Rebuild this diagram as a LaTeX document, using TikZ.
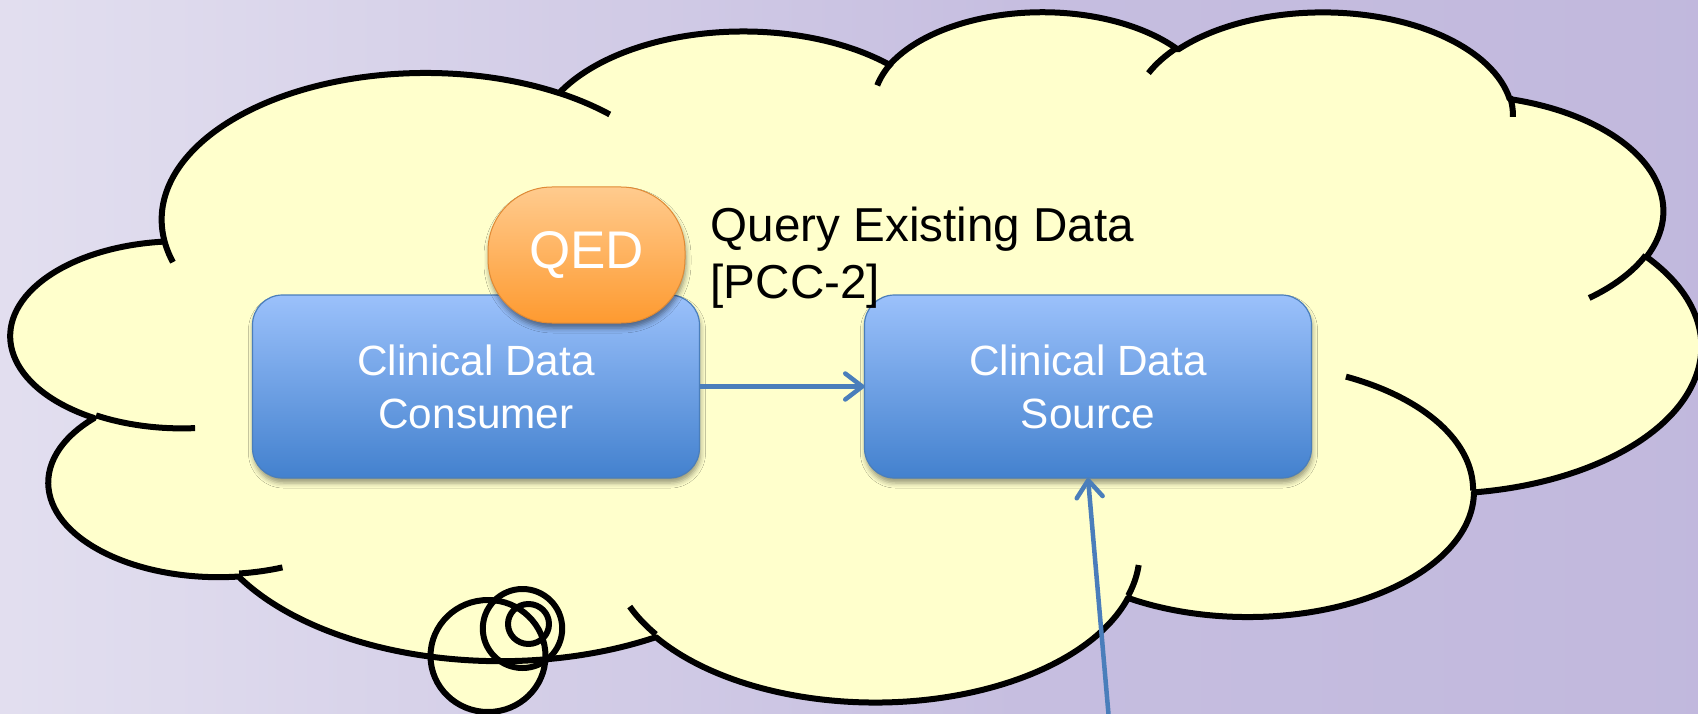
\documentclass[tikz,border=0pt]{standalone}
\usepackage{fontspec}
\setmainfont{Liberation Sans}
\usetikzlibrary{arrows.meta,shadows.blur}

\definecolor{cloudfill}{HTML}{FFFFCC}
\definecolor{boxtop}{HTML}{9BC1FB}
\definecolor{boxmid}{HTML}{76A3EA}
\definecolor{boxbot}{HTML}{4381CE}
\definecolor{boxedge}{HTML}{4A7EBB}
\definecolor{qedtop}{HTML}{FFCB8E}
\definecolor{qedmid}{HTML}{FDAE5E}
\definecolor{qedbot}{HTML}{FE9A30}
\definecolor{qededge}{HTML}{E08A35}
\definecolor{flowblue}{HTML}{4A7EBB}
\definecolor{bgA}{HTML}{F6F5FA}
\definecolor{bgB}{HTML}{DEDAED}
\definecolor{bgC}{HTML}{C6BEE0}
\definecolor{bgD}{HTML}{C0B7DC}
\definecolor{bgE}{HTML}{D8D3EA}

\pgfdeclarehorizontalshading{backdrop}{100bp}{color(0bp)=(bgA); color(30bp)=(bgB); color(55bp)=(bgC); color(80bp)=(bgD); color(100bp)=(bgE)}

% elliptical arc given by radii, start angle and sweep measured as seen
% from the centre; stored as a style with the parametric angles
\newcommand\defarc[5]{%
  \pgfmathsetmacro\arcS{atan2((#2)*sin(#4),(#3)*cos(#4))}%
  \pgfmathsetmacro\arcE{atan2((#2)*sin((#4)+(#5)),(#3)*cos((#4)+(#5)))}%
  \pgfmathsetmacro\arcE{\arcE+360*((\arcE)<(\arcS))}%
  \edef\arcdef{\noexpand\tikzset{#1/.style={start angle=\arcS, end angle=\arcE, x radius=#2, y radius=#3}}}%
  \arcdef}

% outline bulges
\defarc{ca1}{67.53}{91.90}{-190.487483}{123.780533}
\defarc{ca2}{53.33}{72.67}{-144.102383}{89.945233}
\defarc{ca3}{43.65}{59.45}{-145.807917}{99.723017}
\defarc{ca4}{48.57}{65.95}{-130.986067}{117.241733}
\defarc{ca5}{53.33}{72.73}{-78.708883}{109.026917}
\defarc{ca6}{67.75}{92.20}{-46.26725}{130.269}
\defarc{ca7}{57.85}{78.67}{0.625017}{114.033333}
\defarc{ca8}{67.52}{92.15}{22.4516}{115.17255}
\defarc{ca9}{77.20}{105.43}{66.242633}{75.711017}
\defarc{ca10}{43.60}{59.18}{-274.942083}{146.735567}
\defarc{ca11}{43.45}{59.45}{-246.8285}{152.51885}
% inner creases
\defarc{ci1}{43.45}{59.45}{86.742}{26.4295}
\defarc{ci2}{43.60}{59.18}{73.610467}{11.447467}
\defarc{ci3}{67.52}{92.15}{137.62415}{14.0811}
\defarc{ci4}{67.52}{92.15}{6.453267}{15.99835}
\defarc{ci5}{57.85}{78.67}{-70.29235}{70.917367}
\defarc{ci6}{53.33}{72.73}{30.318033}{27.7515}
\defarc{ci7}{48.57}{65.95}{-13.744333}{14.8589}
\defarc{ci8}{48.57}{65.95}{-149.18145}{18.195367}
\defarc{ci9}{43.65}{59.45}{-163.494267}{17.68635}
\defarc{ci10}{67.53}{91.90}{-66.70695}{12.31935}
\defarc{ci11}{67.53}{91.90}{157.65435}{11.858167}

\begin{document}
\begin{tikzpicture}[x=1pt,y=-1pt,
  cloudline/.style={draw=black, line width=6pt, line join=round},
  box/.style={draw=boxedge, line width=1.2pt, rounded corners=30pt, outer sep=0pt,
    top color=boxtop, middle color=boxmid, bottom color=boxbot,
    minimum width=447pt, minimum height=183pt, align=center, text=white,
    font=\fontsize{42.3}{53}\selectfont,
    blur shadow={shadow xshift=1pt, shadow yshift=-5pt, shadow blur radius=5pt, shadow opacity=40}},
  qedbox/.style={draw=qededge, line width=1pt, rounded corners=64pt, outer sep=0pt,
    top color=qedtop, middle color=qedmid, bottom color=qedbot,
    minimum width=197pt, minimum height=136pt, text=white,
    font=\fontsize{53}{60}\selectfont,
    blur shadow={shadow xshift=1pt, shadow yshift=-5pt, shadow blur radius=5pt, shadow opacity=45}},
  tag/.style={align=left, inner sep=0pt, text=black, font=\fontsize{47.6}{57}\selectfont},
  flow/.style={draw=flowblue, line width=4.5pt, -{Straight Barb[length=17pt,width=26pt,round]}}
]
\useasboundingbox (0,0) rectangle (1698,714);
\clip (0,0) rectangle (1698,714);

% backdrop
\shade[shading=backdrop] (0,0) rectangle (1698,714);

% thought bubbles: filled before the outlines so all strokes show
\fill[cloudfill] (488,656) ellipse[x radius=57.5, y radius=56];
\fill[cloudfill] (522.5,628.5) ellipse[x radius=39.7, y radius=39.5];
\fill[cloudfill] (528.5,624) ellipse[x radius=20.5, y radius=20];

% the cloud, in a 432 x 432 frame stretched over its box
\begin{scope}[shift={(11.6,10)}, x=3.90972pt, y=-1.59722pt]
  \path[save path=\cloudp] (39.00,143.70)
    arc[ca1] arc[ca2] arc[ca3] arc[ca4] arc[ca5] arc[ca6]
    arc[ca7] arc[ca8] arc[ca9] arc[ca10] arc[ca11] -- cycle;
  \fill[cloudfill, use path=\cloudp];
  \draw[cloudline, use path=\cloudp];
  \draw[cloudline] (46.93,261.77) arc[ci1];
  \draw[cloudline] (69.28,348.99) arc[ci2];
  \draw[cloudline] (164.78,390.90) arc[ci3];
  \draw[cloudline] (288.27,347.51) arc[ci4];
  \draw[cloudline] (341.29,229.54) arc[ci5];
  \draw[cloudline] (417.98,153.54) arc[ci6];
  \draw[cloudline] (383.24,54.26) arc[ci7];
  \draw[cloudline] (290.78,39.52) arc[ci8];
  \draw[cloudline] (221.41,47.20) arc[ci9];
  \draw[cloudline] (140.00,51.92) arc[ci10];
  \draw[cloudline] (41.27,157.89) arc[ci11];
\end{scope}

\draw[cloudline] (488,656) ellipse[x radius=57.5, y radius=56];
\draw[cloudline] (522.5,628.5) ellipse[x radius=39.7, y radius=39.5];
\draw[cloudline] (528.5,624) ellipse[x radius=20.5, y radius=20];

% actors
\node[box] (cons) at (476,386.5) {Clinical Data\\Consumer};
\node[box] (src) at (1088,386.5) {Clinical Data\\Source};
\node[qedbox] (qed) at (586.5,255) {QED};
\node[tag, anchor=north west] (qlab) at (710.5,206.5) {Query Existing Data\\{}[PCC-2]};

% transactions
\coordinate (feed) at (1109,720);
\draw[flow] (cons) -- (src);
\draw[flow] (feed) -- (src.south);
\end{tikzpicture}
\end{document}
